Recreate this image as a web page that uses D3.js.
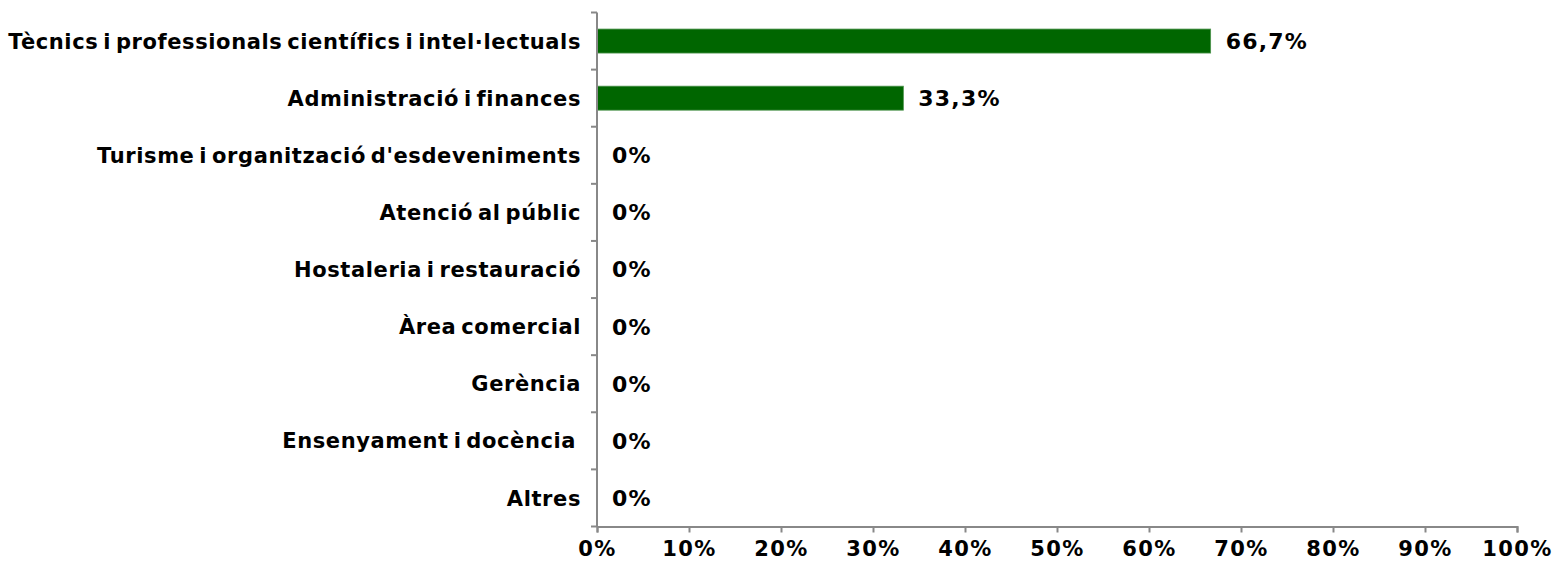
<!DOCTYPE html>
<html>
<head>
<meta charset="utf-8">
<script src="https://cdn.jsdelivr.net/npm/d3@7"></script>
<style>
  body { margin: 0; background: #fff; }
  text { font-family: "DejaVu Sans", Verdana, sans-serif; font-weight: bold; fill: #000; }
</style>
</head>
<body>
<div id="chart"></div>
<script>
// categories and values (percent)
var categories = [
  "Tècnics i professionals científics i intel·lectuals",
  "Administració i finances",
  "Turisme i organització d'esdeveniments",
  "Atenció al públic",
  "Hostaleria i restauració",
  "Àrea comercial",
  "Gerència",
  "Ensenyament i docència ",
  "Altres"
];
var values = [66.7, 33.3, 0, 0, 0, 0, 0, 0, 0];
var valueLabels = ["66,7%", "33,3%", "0%", "0%", "0%", "0%", "0%", "0%", "0%"];
var xTicks = [0, 10, 20, 30, 40, 50, 60, 70, 80, 90, 100];

var data = categories.map(function(c, i) {
  return {cat: c, val: values[i], label: valueLabels[i]};
});

var margin = {top: 12.5, right: 41, bottom: 37.5, left: 597},
    width = 1558 - margin.left - margin.right,
    height = 564 - margin.top - margin.bottom;

var svg = d3.select("#chart").append("svg")
    .attr("width", 1558)
    .attr("height", 564)
  .append("g")
    .attr("transform", "translate(" + margin.left + "," + margin.top + ")");

var x = d3.scaleLinear().domain([0, 100]).range([0, width]);
var y = d3.scaleBand().domain(categories).range([0, height]).paddingInner(0.58).paddingOuter(0.29);

// bars
svg.selectAll(".bar")
    .data(data)
  .enter().append("rect")
    .attr("class", "bar")
    .attr("x", 0)
    .attr("y", function(d) { return y(d.cat); })
    .attr("width", function(d) { return x(d.val); })
    .attr("height", y.bandwidth())
    .attr("fill", "#006600")
    .attr("stroke", function(d) { return d.val > 0 ? "#4d944d" : "none"; })
    .attr("stroke-width", 0.8);

// value labels
svg.selectAll(".vlab")
    .data(data)
  .enter().append("text")
    .attr("class", "vlab")
    .attr("x", function(d) { return x(d.val) + 15; })
    .attr("y", function(d) { return y(d.cat) + y.bandwidth() / 2; })
    .attr("dy", "0.36em")
    .style("font-size", "22px")
    .style("letter-spacing", "1.2px")
    .text(function(d) { return d.label; });

// category labels
svg.selectAll(".clab")
    .data(data)
  .enter().append("text")
    .attr("class", "clab")
    .attr("x", -16)
    .attr("y", function(d) { return y(d.cat) + y.bandwidth() / 2; })
    .attr("dy", "0.36em")
    .attr("text-anchor", "end")
    .style("font-size", "21px")
    .style("letter-spacing", "0.6px")
    .style("word-spacing", "-3px")
    .style("white-space", "pre")
    .text(function(d) { return d.cat; });

// y axis line with ticks between categories
var step = height / categories.length;
var yTickPos = d3.range(categories.length + 1).map(function(i) { return i * step; });
svg.append("line")
    .attr("x1", 0).attr("x2", 0)
    .attr("y1", 0).attr("y2", height)
    .attr("stroke", "#888").attr("stroke-width", 2);
svg.selectAll(".ytick")
    .data(yTickPos)
  .enter().append("line")
    .attr("x1", -6).attr("x2", 0)
    .attr("y1", function(d) { return d; })
    .attr("y2", function(d) { return d; })
    .attr("stroke", "#888").attr("stroke-width", 2);

// x axis
var xAxis = svg.append("g")
    .attr("transform", "translate(0," + height + ")")
    .call(d3.axisBottom(x).tickValues(xTicks).tickSize(6).tickPadding(9)
      .tickFormat(function(d) { return d + "%"; }));
xAxis.select(".domain").attr("stroke", "#888").attr("stroke-width", 2);
xAxis.selectAll(".tick line").attr("stroke", "#888").attr("stroke-width", 2);
xAxis.selectAll(".tick text")
    .style("font-size", "21px")
    .style("letter-spacing", "1.4px")
    .style("font-family", "'DejaVu Sans', Verdana, sans-serif")
    .style("font-weight", "bold")
    .attr("fill", "#000");
</script>
</body>
</html>
